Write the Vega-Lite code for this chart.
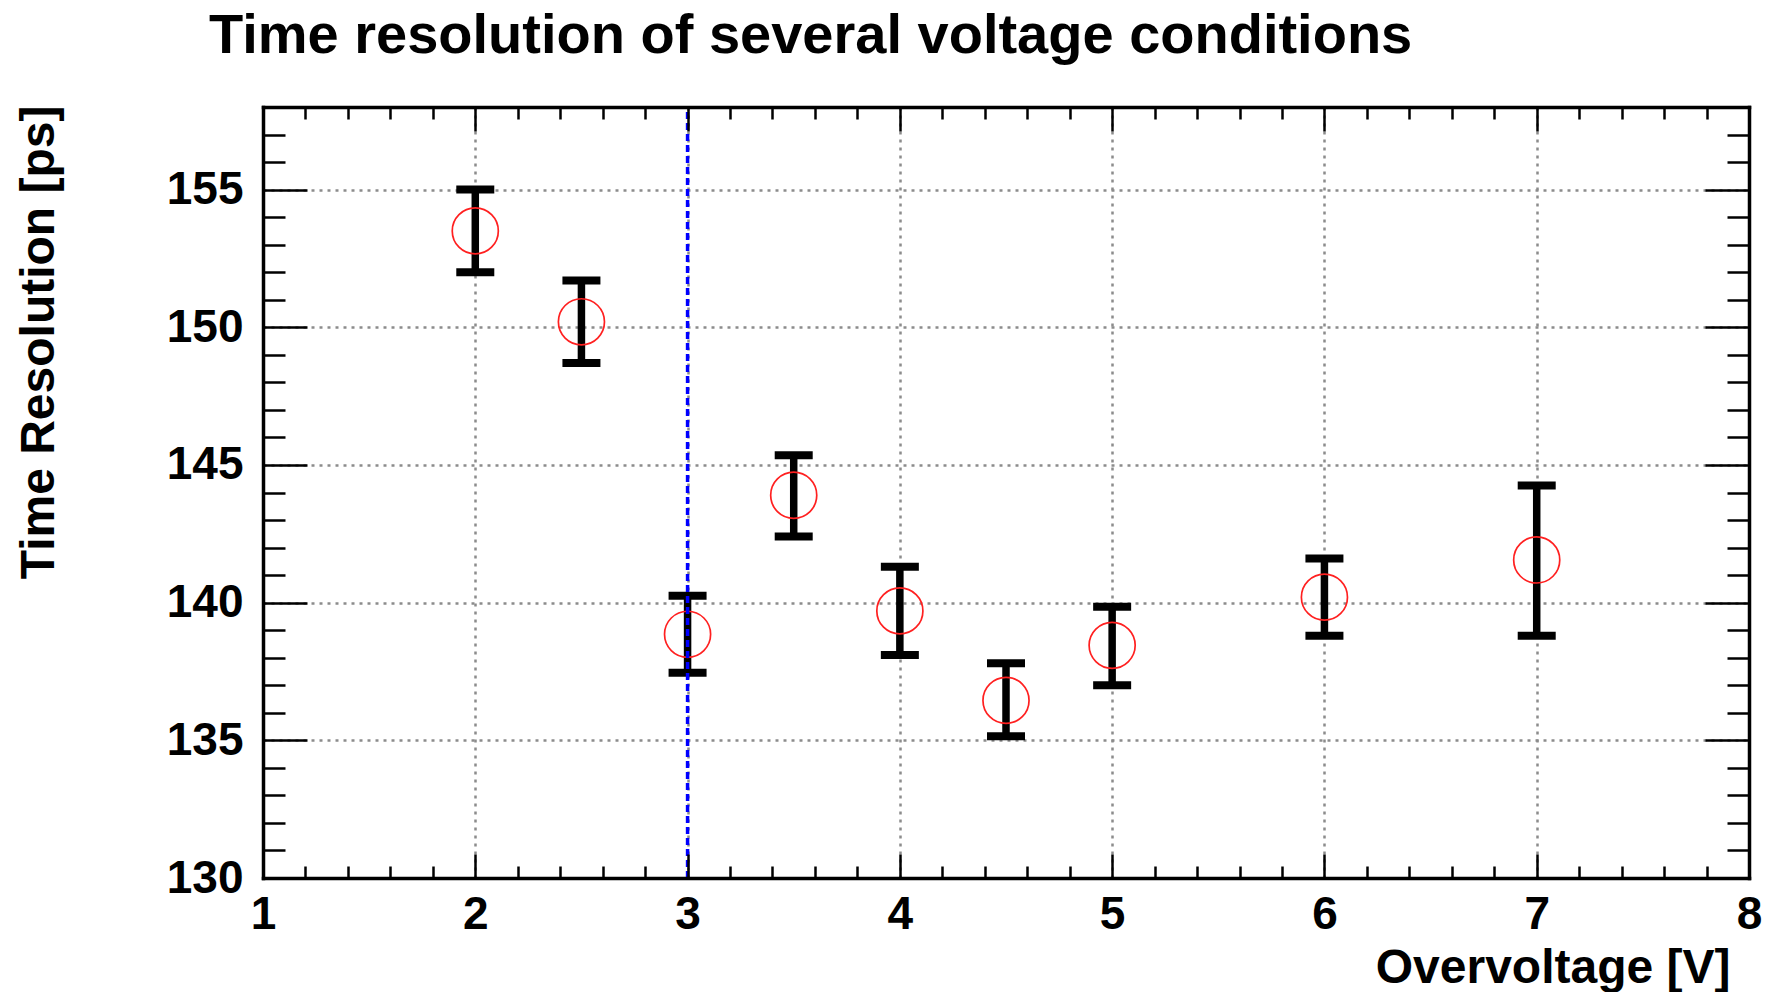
{
  "$schema": "https://vega.github.io/schema/vega-lite/v6.json",
  "width": 1486,
  "height": 771,
  "autosize": {"type": "none"},
  "padding": {"left": 263, "top": 107, "right": 20, "bottom": 114},
  "background": "white",
  "title": {
    "text": "Time resolution of several voltage conditions",
    "anchor": "start",
    "frame": "group",
    "dx": -54,
    "dy": 58,
    "offset": 54,
    "baseline": "alphabetic",
    "font": "Liberation Sans",
    "fontSize": 56,
    "fontWeight": "bold",
    "color": "black"
  },
  "config": {
    "view": {"stroke": null},
    "axis": {
      "labelFont": "Liberation Sans",
      "labelFontSize": 46,
      "labelFontWeight": "bold",
      "labelColor": "black",
      "titleFont": "Liberation Sans",
      "titleFontSize": 48,
      "titleFontWeight": "bold",
      "titleColor": "black",
      "tickColor": "black",
      "tickWidth": 2.5,
      "domainColor": "black",
      "domainWidth": 3.5,
      "domainCap": "square",
      "gridColor": "#8c8c8c",
      "gridDash": [3, 5],
      "gridWidth": 2.5,
      "labelOverlap": false,
      "labelFlush": false,
      "labelBound": false
    }
  },
  "datasets": {
    "pts": [
      {"v": 2, "t": 153.5, "lo": 152.0, "hi": 155.0},
      {"v": 2.5, "t": 150.2, "lo": 148.7, "hi": 151.7},
      {"v": 3, "t": 138.85, "lo": 137.45, "hi": 140.25},
      {"v": 3.5, "t": 143.9, "lo": 142.4, "hi": 145.35},
      {"v": 4, "t": 139.7, "lo": 138.1, "hi": 141.3},
      {"v": 4.5, "t": 136.45, "lo": 135.15, "hi": 137.8},
      {"v": 5, "t": 138.45, "lo": 137.0, "hi": 139.85},
      {"v": 6, "t": 140.2, "lo": 138.8, "hi": 141.6},
      {"v": 7, "t": 141.55, "lo": 138.8, "hi": 144.25}
    ],
    "marker": [{"v": 3}]
  },
  "resolve": {"axis": {"x": "independent", "y": "independent"}},
  "layer": [
    {
      "data": {"name": "pts"},
      "mark": {"type": "rule", "color": "black", "strokeWidth": 7.5},
      "encoding": {
        "x": {
          "field": "v", "type": "quantitative",
          "scale": {"domain": [1, 8], "nice": false, "zero": false},
          "axis": {
            "orient": "bottom", "zindex": 0,
            "ticks": false, "domain": false, "grid": true,
            "values": [1, 2, 3, 4, 5, 6, 7, 8],
            "labelPadding": 14,
            "title": "Overvoltage [V]",
            "titleAnchor": "end", "titleAlign": "right",
            "titleX": 1467, "titleY": 104, "titleBaseline": "alphabetic"
          }
        },
        "y": {
          "field": "lo", "type": "quantitative",
          "scale": {"domain": [130, 158], "nice": false, "zero": false},
          "axis": {
            "orient": "left", "zindex": 0,
            "ticks": false, "domain": false, "grid": true,
            "values": [130, 135, 140, 145, 150, 155],
            "labelPadding": 20,
            "title": "Time Resolution [ps]",
            "titleAnchor": "end", "titleAlign": "right", "titleAngle": -90,
            "titleX": -210, "titleY": -2, "titleBaseline": "alphabetic"
          }
        },
        "y2": {"field": "hi"}
      }
    },
    {
      "data": {"name": "pts"},
      "mark": {"type": "tick", "orient": "horizontal", "color": "black", "size": 38, "thickness": 8, "opacity": 1},
      "encoding": {
        "x": {
          "field": "v", "type": "quantitative",
          "scale": {"domain": [1, 8], "nice": false, "zero": false},
          "axis": {
            "orient": "bottom", "zindex": 1,
            "labels": false, "grid": false, "domain": true, "title": null,
            "tickSize": -24,
            "values": [1, 2, 3, 4, 5, 6, 7, 8]
          }
        },
        "y": {
          "field": "hi", "type": "quantitative",
          "scale": {"domain": [130, 158], "nice": false, "zero": false},
          "axis": {
            "orient": "left", "zindex": 1,
            "labels": false, "grid": false, "domain": true, "title": null,
            "tickSize": -44,
            "values": [130, 135, 140, 145, 150, 155]
          }
        }
      }
    },
    {
      "data": {"name": "pts"},
      "mark": {"type": "tick", "orient": "horizontal", "color": "black", "size": 38, "thickness": 8, "opacity": 1},
      "encoding": {
        "x": {
          "field": "v", "type": "quantitative",
          "scale": {"domain": [1, 8], "nice": false, "zero": false},
          "axis": {
            "orient": "bottom", "zindex": 1,
            "labels": false, "grid": false, "domain": false, "title": null,
            "tickSize": -12,
            "values": [1.2, 1.4, 1.6, 1.8, 2.2, 2.4, 2.6, 2.8, 3.2, 3.4, 3.6, 3.8, 4.2, 4.4, 4.6, 4.8, 5.2, 5.4, 5.6, 5.8, 6.2, 6.4, 6.6, 6.8, 7.2, 7.4, 7.6, 7.8]
          }
        },
        "y": {
          "field": "lo", "type": "quantitative",
          "scale": {"domain": [130, 158], "nice": false, "zero": false},
          "axis": {
            "orient": "left", "zindex": 1,
            "labels": false, "grid": false, "domain": false, "title": null,
            "tickSize": -22,
            "values": [131, 132, 133, 134, 136, 137, 138, 139, 141, 142, 143, 144, 146, 147, 148, 149, 151, 152, 153, 154, 156, 157]
          }
        }
      }
    },
    {
      "data": {"name": "pts"},
      "mark": {"type": "point", "shape": "circle", "filled": false, "color": "#ff2020", "size": 2124, "strokeWidth": 1.7, "opacity": 1},
      "encoding": {
        "x": {
          "field": "v", "type": "quantitative",
          "scale": {"domain": [1, 8], "nice": false, "zero": false},
          "axis": {
            "orient": "top", "zindex": 1,
            "labels": false, "grid": false, "domain": true, "title": null,
            "tickSize": -24,
            "values": [1, 2, 3, 4, 5, 6, 7, 8]
          }
        },
        "y": {
          "field": "t", "type": "quantitative",
          "scale": {"domain": [130, 158], "nice": false, "zero": false},
          "axis": {
            "orient": "right", "zindex": 1,
            "labels": false, "grid": false, "domain": true, "title": null,
            "tickSize": -44,
            "values": [130, 135, 140, 145, 150, 155]
          }
        }
      }
    },
    {
      "data": {"name": "marker"},
      "mark": {"type": "rule", "color": "#0000ff", "strokeWidth": 3.5, "strokeDash": [7, 4]},
      "encoding": {
        "x": {
          "field": "v", "type": "quantitative",
          "scale": {"domain": [1, 8], "nice": false, "zero": false},
          "axis": {
            "orient": "top", "zindex": 1,
            "labels": false, "grid": false, "domain": false, "title": null,
            "tickSize": -12,
            "values": [1.2, 1.4, 1.6, 1.8, 2.2, 2.4, 2.6, 2.8, 3.2, 3.4, 3.6, 3.8, 4.2, 4.4, 4.6, 4.8, 5.2, 5.4, 5.6, 5.8, 6.2, 6.4, 6.6, 6.8, 7.2, 7.4, 7.6, 7.8]
          }
        },
        "y": {
          "datum": 130, "type": "quantitative",
          "scale": {"domain": [130, 158], "nice": false, "zero": false},
          "axis": {
            "orient": "right", "zindex": 1,
            "labels": false, "grid": false, "domain": false, "title": null,
            "tickSize": -22,
            "values": [131, 132, 133, 134, 136, 137, 138, 139, 141, 142, 143, 144, 146, 147, 148, 149, 151, 152, 153, 154, 156, 157]
          }
        },
        "y2": {"datum": 158}
      }
    }
  ]
}
